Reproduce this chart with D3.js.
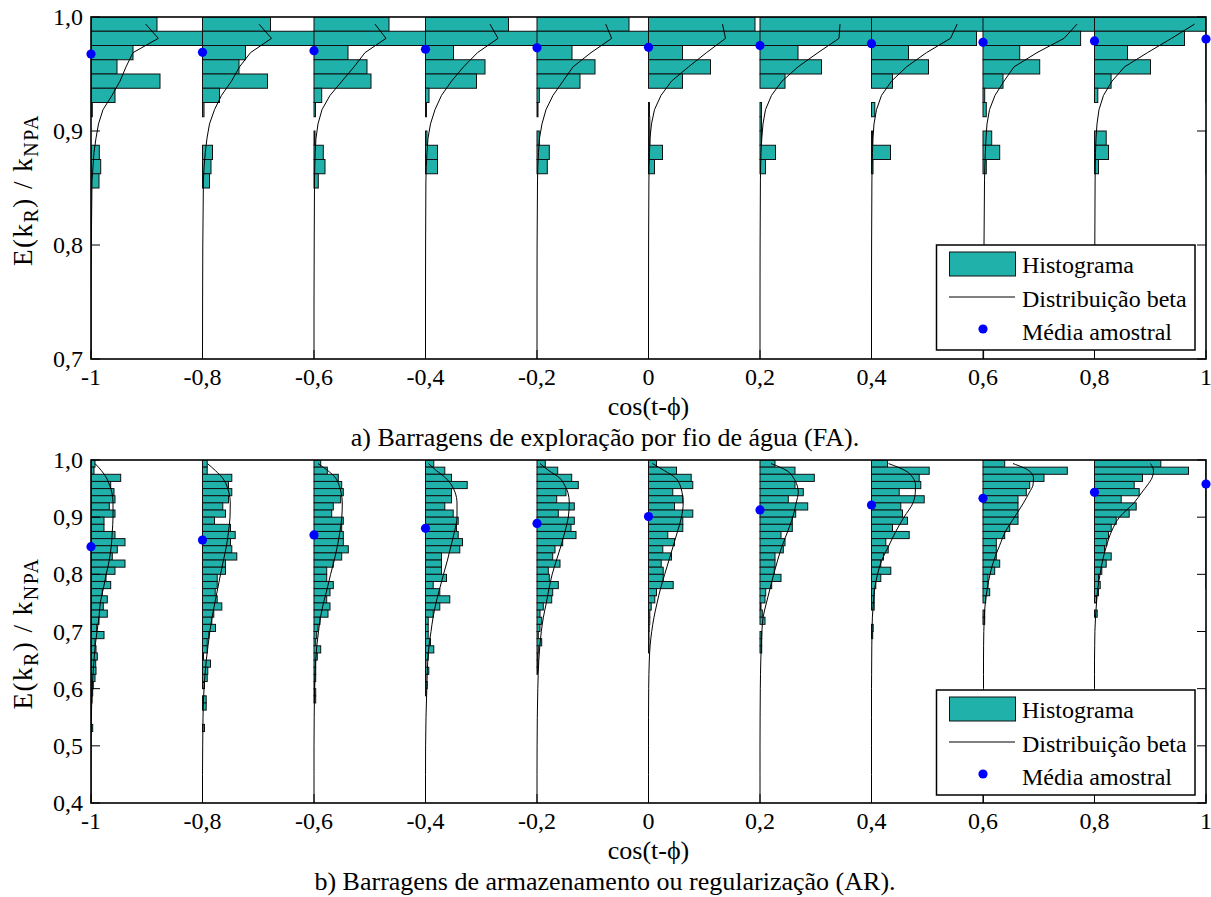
<!DOCTYPE html>
<html>
<head>
<meta charset="utf-8">
<script src="https://cdn.jsdelivr.net/npm/d3@7"></script>
<style>
  body { margin: 0; background: #fff; }
  svg { display: block; }
</style>
</head>
<body>
<svg id="chart" width="1211" height="897"></svg>
<script>
// columns of cos(t-phi) where a histogram is drawn
const columns = [-1, -0.8, -0.6, -0.4, -0.2, 0, 0.2, 0.4, 0.6, 0.8, 1];
const xTickLabels = ["-1", "-0,8", "-0,6", "-0,4", "-0,2", "0", "0,2", "0,4", "0,6", "0,8", "1"];
const binWidth = 0.0125;          // histogram class width in E(kR)/kNPA
const HIST_UNIT = 0.2 / 111.5;    // cos units per histogram count

// ---- panel a) FA ----
const yTicksA = [0.7, 0.8, 0.9, 1.0];
const yTickLabelsA = ["0,7", "0,8", "0,9", "1,0"];
// counts per class, from 1.0 downward
const histA = [
  [66, 160, 42, 26, 69, 24, 1.3, 0, 0, 8.3, 9.7, 8],
  [68, 155, 43, 36.5, 65, 17, 1.5, 0, 0, 10, 8.5, 7],
  [75, 150, 34, 53, 57, 7.7, 1.5, 0, 1, 9.3, 11, 4.3],
  [83, 140, 28, 59.5, 51, 3.5, 1, 0, 1.5, 12, 12, 0],
  [92, 130, 35, 58, 43, 2.3, 1, 0, 2.3, 12.3, 10.3, 0],
  [106.5, 125, 34, 62, 34, 0, 1, 1.3, 1.3, 14, 6, 0],
  [140, 115, 38, 61.5, 25, 0, 1.5, 1.5, 1.5, 15.5, 5.5, 0],
  [155, 105, 37, 57, 21, 0, 3.3, 0, 1, 19, 1.5, 0],
  [170, 97.6, 36.7, 56.7, 20, 1.7, 3.3, 0, 8.7, 16.7, 3.3, 0],
  [186, 90, 33, 56, 16.6, 3.3, 0, 0, 11.7, 14, 4, 0],
  [200, 85, 33, 55, 16, 3, 0, 0, 10, 15, 4, 0]
];
const meansA = [0.9675, 0.969, 0.9705, 0.9717, 0.973, 0.9734, 0.9749, 0.9766, 0.9778, 0.979, 0.9807];
const betaLevelsA = [0.99375, 0.98125, 0.96875, 0.95625, 0.94375, 0.93125, 0.91875, 0.90625,
                     0.89375, 0.88125, 0.86875, 0.85625, 0.8, 0.75, 0.7];
const betaA = [
  [54.7, 67.3, 42, 35, 29, 21, 12, 7.5, 5, 3, 2, 1, 0.3, 0, 0],
  [56.5, 69, 48, 37, 29, 19, 12, 7, 4.5, 2.8, 1.6, 0.9, 0.3, 0.1, 0],
  [61, 72, 51, 40, 28, 16, 8, 4, 2, 1.2, 0.8, 0.5, 0.2, 0, 0],
  [64.5, 72.5, 52, 38, 26, 16, 9.5, 5, 2.5, 1.5, 0.8, 0.4, 0.1, 0, 0],
  [68.7, 74.7, 54, 36, 26, 16, 9, 5, 2.5, 1.5, 0.8, 0.5, 0.1, 0, 0],
  [74, 77, 58, 40, 23, 12.5, 6, 3, 1.5, 1, 0.6, 0.4, 0.1, 0, 0],
  [80, 79, 58, 38, 22, 11.5, 5.5, 3, 1.8, 1, 0.6, 0.4, 0.1, 0, 0],
  [85.7, 79, 55, 35, 20, 10, 5, 2.5, 1.5, 1, 0.6, 0.4, 0.1, 0, 0],
  [94, 81, 54, 31, 21, 12, 6.5, 4, 3, 2.3, 1.8, 1.5, 1, 0.7, 0.6],
  [100, 77, 53, 30, 17.5, 9, 4.5, 2.5, 1.5, 1, 0.8, 0.6, 0.3, 0.1, 0],
  null
];

// ---- panel b) AR ----
const yTicksB = [0.4, 0.5, 0.6, 0.7, 0.8, 0.9, 1.0];
const yTickLabelsB = ["0,4", "0,5", "0,6", "0,7", "0,8", "0,9", "1,0"];
const histB = [
  [4, 3, 29.7, 19.7, 23, 24, 18.3, 24, 13, 13, 24, 34, 26.3, 21.3, 34, 24, 15, 19.7, 11.3, 16.3,
   12.3, 16.3, 8, 5.7, 13, 4, 5, 6.3, 4.7, 5, 4, 2.3, 1.7, 1, 0, 0, 0, 1.7],
  [4.7, 4.7, 29.3, 26, 29.3, 26, 20.3, 23, 12, 28, 32.7, 28, 29.3, 34.3, 23, 23, 14.7, 14.7, 12.7, 14.7,
   19.3, 11.3, 9.3, 13, 6.3, 4.7, 4.7, 1, 8, 5.3, 4.7, 2, 0, 3.7, 3.7, 0, 0, 2],
  [6.7, 13.3, 24.3, 27.7, 29.3, 26.7, 19.3, 17.7, 29.3, 27.7, 29.3, 29.3, 34.3, 27.7, 19.3, 12.7, 12.7, 19.3, 16, 12.7,
   16, 14, 6, 4, 2.7, 1.7, 6.7, 3.3, 1.7, 1.7, 1.7, 0.7, 1.7, 1.7],
  [8.3, 19.3, 26, 41.7, 26, 26, 19.3, 27.7, 32.7, 31, 32.7, 37, 34.3, 16, 16, 16, 21, 7.7, 14.3, 24.3,
   14.3, 7.7, 2.7, 2.7, 2.7, 5, 8.3, 2.7, 0.5, 3.3, 0.5, 1.7, 0.5],
  [8.3, 20.7, 34.7, 41.3, 29, 19.7, 37.3, 21.3, 37.3, 34, 39, 25.7, 18, 15.7, 23, 11.3, 12.3, 21.3, 15.7, 14.7,
   6.3, 3, 4.7, 3, 1.3, 4.7, 1.3, 1, 1, 0.5],
  [8, 28, 42.7, 44.3, 24.3, 34.3, 26, 44.3, 34.3, 34.3, 19.3, 26, 14.3, 23, 12.7, 14.7, 14.7, 24.7, 8, 6.3,
   2.7, 1.3, 1.3, 0.7, 0.5, 0.5, 0.5],
  [15, 35, 54.3, 35, 43.3, 28.3, 47.7, 35.7, 32.3, 32.3, 21, 25, 23.3, 15, 15, 14.3, 21, 11.7, 5.7, 5,
   1, 2.3, 5, 0, 1.7, 1.7, 1.7],
  [16, 57.7, 47.7, 49.3, 27.7, 52.7, 29.3, 31, 36, 21, 37.7, 14.3, 16.7, 12, 9.3, 19.3, 9.3, 4.3, 2.7, 2.7,
   2.7, 0, 0, 1.7, 1.2],
  [21.7, 84.3, 61, 46.7, 43.3, 35, 35, 35, 35, 26.7, 21.7, 13.3, 13.3, 13.3, 16.7, 11.7, 5, 5, 6.7, 2.7,
   0, 1.7, 1.7],
  [66.3, 94, 48, 39.7, 44.7, 26.7, 41.7, 34.7, 21.7, 16.7, 14, 12.3, 10, 16.7, 11.7, 7.3, 4, 5.7, 4, 2,
   0, 2.7],
  [90, 100, 50, 40, 40, 30, 30, 25, 20, 15, 12, 10, 8, 8, 6, 5, 4, 3]
];
const meansB = [0.8484, 0.860, 0.869, 0.8805, 0.889, 0.901, 0.9126, 0.9213, 0.933, 0.9435, 0.958];
const betaLevelsB = [0.99375, 0.98125, 0.96875, 0.95625, 0.94375, 0.925, 0.9, 0.875, 0.85, 0.825, 0.8,
                     0.775, 0.75, 0.725, 0.7, 0.675, 0.65, 0.625, 0.6, 0.55, 0.5, 0.45, 0.4];
const betaB = [
  [4, 10.5, 15.5, 18.5, 20.8, 22, 22, 21.3, 20.3, 18.3, 15.2, 12.3, 9.3, 8, 6, 4.2, 3, 2, 1.2, 0.4, 0.1, 0, 0],
  [5, 13, 20, 24, 26.3, 27.8, 27.5, 26, 24, 21, 18, 15.2, 12.3, 9.6, 7.3, 5.5, 3.8, 2.5, 1.5, 0.5, 0.2, 0, 0],
  [4, 14, 21.5, 25, 27, 28.3, 27.8, 26, 23.5, 20.3, 16.6, 13.2, 9.5, 6.5, 4.5, 2.8, 1.7, 1, 0.5, 0.2, 0, 0, 0],
  [3, 11, 20, 26, 29.5, 31.5, 31.5, 29, 25.5, 22, 18, 14.2, 10.5, 7.6, 5.5, 3.5, 2.3, 1.7, 1.3, 0.5, 0.1, 0, 0],
  [3, 12, 22.5, 27.5, 30.8, 32.3, 31.3, 28, 24, 19.5, 15.2, 12, 9.3, 6.4, 4.3, 2.8, 1.8, 1.2, 0.8, 0.3, 0.1, 0, 0],
  [4, 16, 27, 31.5, 33.5, 34.7, 33, 29, 24.8, 20.5, 16.2, 12, 8.6, 5.5, 3.2, 1.6, 0.8, 0.4, 0.2, 0, 0, 0, 0],
  [11, 27, 33.5, 37, 38.3, 36.2, 32.8, 27.7, 22.2, 17.7, 13.7, 10, 6.4, 3.1, 1.9, 1.3, 0.8, 0.5, 0.3, 0.1, 0, 0, 0],
  [17, 34, 41.5, 44, 43.8, 41.5, 32.5, 24.3, 17.3, 10.3, 6, 3.2, 1.8, 0.9, 0.5, 0.3, 0.2, 0.1, 0, 0, 0, 0, 0],
  [30, 46, 50.5, 50, 46.5, 40.5, 31.5, 22.5, 16.5, 11, 7, 4.3, 2.3, 1.3, 0.8, 0.6, 0.5, 0.5, 0.5, 0.5, 0.4, 0.4, 0.4],
  [56, 59, 57.5, 53, 47.5, 39.5, 25, 17, 12, 8.2, 5.5, 3.3, 2, 1, 0.4, 0.2, 0, 0, 0, 0, 0, 0, 0],
  null
];

const legendLabels = ["Histograma", "Distribuição beta", "Média amostral"];
const xTitle = "cos(t-\u03D5)";
const captionA = "a) Barragens de exploração por fio de água (FA).";
const captionB = "b) Barragens de armazenamento ou regularização (AR).";

const TEAL = "#20B2AA";
const FONT = 24;        // ticks, legend
const TITLE_FONT = 26;  // axis titles, captions
const SERIF = '"Liberation Serif"';

const svg = d3.select("#chart");
const x = d3.scaleLinear().domain([-1, 1]).range([91, 1206]);

function label(sel, size = FONT) {
  return sel.style("font-family", SERIF).attr("font-size", size).attr("fill", "#000");
}

function drawPanel(p) {
  const y = d3.scaleLinear().domain(p.yDomain).range([p.bottom, p.top]);
  const g = svg.append("g").attr("class", "panel-" + p.id);
  const [x0, x1] = x.range();

  const clipId = "clip-" + p.id;
  svg.append("clipPath").attr("id", clipId)
    .append("rect")
    .attr("x", x0).attr("y", p.top)
    .attr("width", x1 - x0).attr("height", p.bottom - p.top);

  const plot = g.append("g").attr("clip-path", `url(#${clipId})`);
  const line = d3.line()
    .y(d => y(d.v))
    .curve(p.curve);

  // histograms + beta curves, column by column (later columns cover earlier)
  columns.forEach((c, i) => {
    const col = plot.append("g").attr("class", "col");
    const bins = p.hist[i]
      .map((f, k) => ({ f, hi: 1 - k * binWidth, lo: 1 - (k + 1) * binWidth }))
      .filter(d => d.f > 0 && d.lo >= p.yDomain[0] - 1e-9);
    col.selectAll("rect")
      .data(bins)
      .join("rect")
      .attr("x", x(c))
      .attr("y", d => y(d.hi))
      .attr("width", d => x(c + d.f * HIST_UNIT) - x(c))
      .attr("height", d => y(d.lo) - y(d.hi))
      .attr("fill", TEAL)
      .attr("stroke", "#111")
      .attr("stroke-width", 1);

    if (p.beta[i]) {
      const pts = p.betaLevels.map((v, k) => ({ v, f: p.beta[i][k] }));
      col.append("path")
        .datum(pts)
        .attr("d", line.x(d => x(c + d.f * HIST_UNIT)))
        .attr("fill", "none")
        .attr("stroke", "#000")
        .attr("stroke-width", 1);
    }
  });

  // box
  g.append("rect")
    .attr("x", x0).attr("y", p.top)
    .attr("width", x1 - x0).attr("height", p.bottom - p.top)
    .attr("fill", "none").attr("stroke", "#000").attr("stroke-width", 1.6);

  // inward ticks (bottom, left, right)
  const tl = 9;
  const ticks = g.append("g").attr("stroke", "#000").attr("stroke-width", 1);
  columns.forEach(c => {
    ticks.append("line").attr("x1", x(c)).attr("x2", x(c)).attr("y1", p.bottom).attr("y2", p.bottom - tl);
  });
  p.yTicks.forEach(v => {
    ticks.append("line").attr("x1", x0).attr("x2", x0 + tl).attr("y1", y(v)).attr("y2", y(v));
    ticks.append("line").attr("x1", x1).attr("x2", x1 - tl).attr("y1", y(v)).attr("y2", y(v));
  });

  // tick labels
  g.append("g").selectAll("text")
    .data(columns)
    .join("text")
    .call(label)
    .attr("x", d => x(d))
    .attr("y", p.bottom + 26)
    .attr("text-anchor", "middle")
    .text((d, i) => xTickLabels[i]);
  g.append("g").selectAll("text")
    .data(p.yTicks)
    .join("text")
    .call(label)
    .attr("x", x0 - 8)
    .attr("y", d => y(d) + 8)
    .attr("text-anchor", "end")
    .text((d, i) => p.yTickLabels[i]);

  // sample means
  g.append("g").selectAll("circle")
    .data(p.means)
    .join("circle")
    .attr("cx", (d, i) => x(columns[i]))
    .attr("cy", d => y(d))
    .attr("r", 4.6)
    .attr("fill", "#0000ff");

  // axis titles + caption
  const midX = (x0 + x1) / 2;
  g.append("text").call(label, TITLE_FONT)
    .attr("x", midX).attr("y", p.bottom + 56)
    .attr("text-anchor", "middle")
    .text(xTitle);
  g.append("text").call(label, TITLE_FONT)
    .attr("x", 605).attr("y", p.bottom + 87)
    .attr("text-anchor", "middle")
    .text(p.caption);

  const yt = g.append("text").call(label, 27)
    .attr("transform", `translate(32,${(p.top + p.bottom) / 2 + 2}) rotate(-90)`)
    .attr("text-anchor", "middle")
    .attr("letter-spacing", 1.5);
  yt.append("tspan").text("E(k");
  yt.append("tspan").attr("dy", 6).attr("font-size", 20).text("R");
  yt.append("tspan").attr("dy", -6).text(") / k");
  yt.append("tspan").attr("dy", 6).attr("font-size", 20).text("NPA");

  // legend
  const lt = p.legendTop;
  const lg = g.append("g");
  lg.append("rect")
    .attr("x", 936.5).attr("y", lt).attr("width", 258.5).attr("height", 105)
    .attr("fill", "#fff").attr("stroke", "#000").attr("stroke-width", 1.5);
  lg.append("rect")
    .attr("x", 949.5).attr("y", lt + 7).attr("width", 66).attr("height", 24)
    .attr("fill", TEAL).attr("stroke", "#111").attr("stroke-width", 1);
  lg.append("line")
    .attr("x1", 949).attr("x2", 1015).attr("y1", lt + 52).attr("y2", lt + 52)
    .attr("stroke", "#000").attr("stroke-width", 1);
  lg.append("circle")
    .attr("cx", 983).attr("cy", lt + 84).attr("r", 4.6).attr("fill", "#0000ff");
  lg.selectAll("text.leg")
    .data(legendLabels)
    .join("text")
    .attr("class", "leg")
    .call(label)
    .attr("x", 1022)
    .attr("y", (d, i) => lt + 28 + i * 33.5)
    .text(d => d);
}

drawPanel({
  id: "a", top: 17, bottom: 359, yDomain: [0.7, 1.0],
  yTicks: yTicksA, yTickLabels: yTickLabelsA,
  hist: histA, means: meansA, betaLevels: betaLevelsA, beta: betaA,
  curve: d3.curveLinear, legendTop: 245, caption: captionA
});
drawPanel({
  id: "b", top: 460, bottom: 803, yDomain: [0.4, 1.0],
  yTicks: yTicksB, yTickLabels: yTickLabelsB,
  hist: histB, means: meansB, betaLevels: betaLevelsB, beta: betaB,
  curve: d3.curveMonotoneY, legendTop: 690, caption: captionB
});
</script>
</body>
</html>
